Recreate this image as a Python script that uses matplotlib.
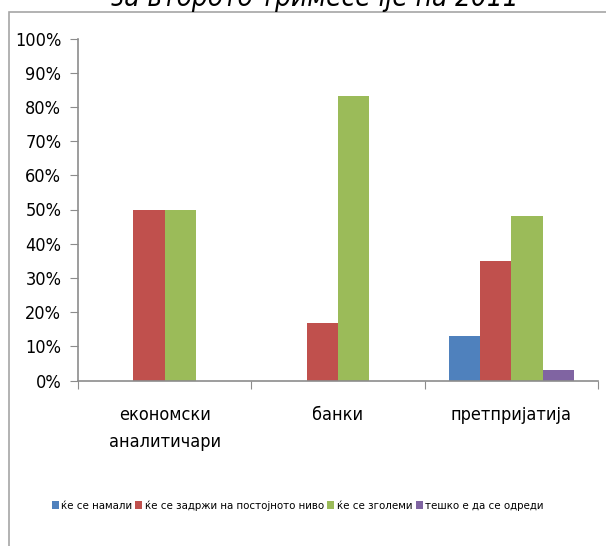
import matplotlib.pyplot as plt
from matplotlib.patches import Rectangle
import numpy as np

categories = ['економски\nаналитичари', 'банки', 'претпријатија']
series_names = ['ќе се намали', 'ќе се задржи на постојното ниво', 'ќе се зголеми', 'тешко е да се одреди']
namali = [0, 0, 13]
zadrzi = [50, 16.7, 35]
zgolemi = [50, 83.3, 48]
tesko = [0, 0, 3]
colors = ['#4f81bd', '#c0504d', '#9bbb59', '#8064a2']
title = 'за второто тримесечје на 2011'

plt.rcParams['font.family'] = ['DejaVu Sans']
plt.rcParams['font.stretch'] = 'condensed'

W, H = 606, 546
fig = plt.figure(figsize=(W / 100, H / 100), dpi=100)

# outer chart border
fig.patches.append(Rectangle((9 / W, -0.1), 1.2, 1 - 12 / H + 0.1, transform=fig.transFigure,
                             fill=False, edgecolor='#a6a6a6', linewidth=1.2))

ax = fig.add_axes([78 / W, (H - 380.5) / H, 520 / W, 342 / H])

x = np.arange(len(categories))
w = 0.181
for i, vals in enumerate([namali, zadrzi, zgolemi, tesko]):
    ax.bar(x + (i - 1.5) * w, vals, width=w, color=colors[i], label=series_names[i])

ax.set_xlim(-0.5, 2.5)
ax.set_ylim(0, 100)
ax.set_yticks(np.arange(0, 101, 10))
ax.set_yticklabels([f'{v}%' for v in range(0, 101, 10)], fontsize=13)
ax.set_xticks([-0.5, 0.5, 1.5, 2.5], minor=False)
ax.set_xticklabels([])
ax.set_xticks(x, minor=True)
ax.set_xticklabels(categories, minor=True, fontsize=13, linespacing=1.7)
ax.tick_params(axis='x', which='minor', length=0, pad=18)
ax.tick_params(axis='x', which='major', length=6, color='#8c8c8c', direction='out')
ax.tick_params(axis='y', length=6, color='#8c8c8c', direction='out', pad=6)

for s in ['top', 'right']:
    ax.spines[s].set_visible(False)
for s in ['left', 'bottom']:
    ax.spines[s].set_color('#8c8c8c')
    ax.spines[s].set_linewidth(1.2)

fig.legend(loc='upper left', bbox_to_anchor=(47 / W, 1 - 496 / H), ncol=4, frameon=False,
           fontsize=8.2, handlelength=0.62, handleheight=0.62, handletextpad=0.2, columnspacing=0.3,
           borderaxespad=0)

fig.text(315 / W, 1 - 6 / H, title, ha='center', va='baseline', fontsize=20, style='italic')

plt.savefig('out.png', dpi=100)
